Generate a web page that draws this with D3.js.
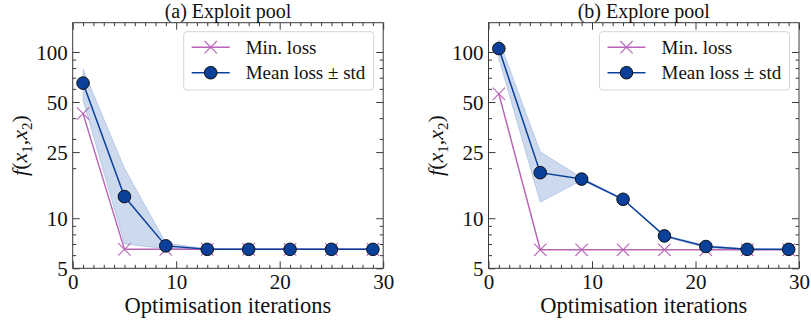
<!DOCTYPE html>
<html>
<head>
<meta charset="utf-8">
<script src="https://cdn.jsdelivr.net/npm/d3@7"></script>
<style>
  html, body { margin: 0; padding: 0; background: #fff; }
  svg text { font-family: "Liberation Serif", "DejaVu Serif", serif !important; }
</style>
</head>
<body>
<svg id="chart" width="811" height="324"></svg>
<script>
// Optimisation iterations at which the pools were evaluated
const iterations = [1, 5, 9, 13, 17, 21, 25, 29];

// (a) Exploit pool
const exploitMin  = [42.6, 6.5, 6.5, 6.5, 6.5, 6.5, 6.5, 6.5];
const exploitMean = [65.0, 13.5, 6.82, 6.5, 6.5, 6.5, 6.5, 6.5];
const exploitStd  = [13.7, 6.5, 0.27, 0.04, 0.0, 0.0, 0.0, 0.0];

// (b) Explore pool
const exploreMin  = [56.0, 6.46, 6.46, 6.46, 6.46, 6.46, 6.46, 6.46];
const exploreMean = [104.8, 18.8, 17.2, 13.0, 7.83, 6.76, 6.5, 6.5];
const exploreStd  = [13.8, 6.3, 0.3, 0.1, 0.08, 0.12, 0.05, 0.0];

const panelTitles = ["(a) Exploit pool", "(b) Explore pool"];
const legendLabels = ["Min. loss", "Mean loss \u00b1 std"];
const xTicks = [0, 10, 20, 30];
const xMinorTicks = d3.range(0, 31, 1).filter(v => v % 10 !== 0);
const yTicks = [5, 10, 25, 50, 100];
const yMinorTicks = [6, 7, 8, 9, 20, 30, 40, 60, 70, 80, 90];
const xDomain = [0, 30];
const yDomain = [5, 150];

const panels = [
  { title: panelTitles[0], min: exploitMin, mean: exploitMean, std: exploitStd, left: 72.7 },
  { title: panelTitles[1], min: exploreMin, mean: exploreMean, std: exploreStd, left: 488.5 }
];

const plotW = 310.5, plotTop = 22.7, plotBottom = 268.3;
const minColor = "#b865b8";
const meanColor = "#0a3f9a";
const bandColor = "#5b86c8";
const frameColor = "#3a3a3a";
const serif = "'Liberation Serif', 'DejaVu Serif', serif";

const svg = d3.select("#chart");

panels.forEach(p => {
  const x = d3.scaleLinear().domain(xDomain).range([p.left, p.left + plotW]);
  const y = d3.scaleLog().domain(yDomain).range([plotBottom, plotTop]);
  const g = svg.append("g").attr("font-family", serif);

  const clipId = "clip" + Math.round(p.left);
  svg.append("clipPath").attr("id", clipId)
    .append("rect").attr("x", p.left).attr("y", plotTop).attr("width", plotW).attr("height", plotBottom - plotTop);

  const plot = g.append("g").attr("clip-path", `url(#${clipId})`);

  // shaded mean ± std band
  const band = d3.area()
    .x((d, i) => x(iterations[i]))
    .y0((d, i) => y(p.mean[i] - p.std[i]))
    .y1((d, i) => y(p.mean[i] + p.std[i]));
  plot.append("path").datum(p.mean).attr("d", band)
    .attr("fill", bandColor).attr("fill-opacity", 0.3)
    .attr("stroke", bandColor).attr("stroke-opacity", 0.3).attr("stroke-width", 1);

  const line = vals => d3.line().x((d, i) => x(iterations[i])).y(d => y(d))(vals);

  // minimum loss line with cross markers
  plot.append("path").attr("d", line(p.min))
    .attr("fill", "none").attr("stroke", minColor).attr("stroke-width", 1.5);
  const cs = 6.2;
  plot.selectAll(".cross").data(p.min).join("path")
    .attr("d", (d, i) => {
      const cx = x(iterations[i]), cy = y(d);
      return `M${cx - cs},${cy - cs}L${cx + cs},${cy + cs}M${cx - cs},${cy + cs}L${cx + cs},${cy - cs}`;
    })
    .attr("stroke", minColor).attr("stroke-width", 1.1).attr("fill", "none");

  // mean loss line with circle markers
  plot.append("path").attr("d", line(p.mean))
    .attr("fill", "none").attr("stroke", meanColor).attr("stroke-width", 1.5);
  g.selectAll(".dot").data(p.mean).join("circle")
    .attr("cx", (d, i) => x(iterations[i])).attr("cy", d => y(d)).attr("r", 6.3)
    .attr("fill", meanColor).attr("stroke", "#111").attr("stroke-width", 1);

  // axes: inward ticks on all four sides
  const styleAxis = sel => {
    sel.attr("font-family", serif);
    sel.select(".domain").remove();
    sel.selectAll(".tick line").attr("stroke", frameColor).attr("stroke-width", 1);
    sel.selectAll(".tick text").attr("fill", "#111").attr("font-size", 21);
  };
  const xb = g.append("g").attr("transform", `translate(0,${plotBottom})`)
    .call(d3.axisBottom(x).tickValues(xTicks).tickSize(-7).tickPadding(5).tickFormat(d3.format("d")));
  styleAxis(xb);
  xb.selectAll(".tick text").attr("dy", "0.75em");
  styleAxis(g.append("g").attr("transform", `translate(0,${plotBottom})`)
    .call(d3.axisBottom(x).tickValues(xMinorTicks).tickSize(-3.5).tickFormat("")));
  styleAxis(g.append("g").attr("transform", `translate(0,${plotTop})`)
    .call(d3.axisTop(x).tickValues(xTicks).tickSize(-7).tickFormat("")));
  styleAxis(g.append("g").attr("transform", `translate(0,${plotTop})`)
    .call(d3.axisTop(x).tickValues(xMinorTicks).tickSize(-3.5).tickFormat("")));

  const yl = g.append("g").attr("transform", `translate(${p.left},0)`)
    .call(d3.axisLeft(y).tickValues(yTicks).tickSize(-7).tickPadding(5).tickFormat(d3.format("d")));
  styleAxis(yl);
  yl.selectAll(".tick text").attr("dy", "0.34em");
  styleAxis(g.append("g").attr("transform", `translate(${p.left},0)`)
    .call(d3.axisLeft(y).tickValues(yMinorTicks).tickSize(-3.5).tickFormat("")));
  styleAxis(g.append("g").attr("transform", `translate(${p.left + plotW},0)`)
    .call(d3.axisRight(y).tickValues(yTicks).tickSize(-7).tickFormat("")));
  styleAxis(g.append("g").attr("transform", `translate(${p.left + plotW},0)`)
    .call(d3.axisRight(y).tickValues(yMinorTicks).tickSize(-3.5).tickFormat("")));

  // frame
  g.append("rect").attr("x", p.left).attr("y", plotTop).attr("width", plotW).attr("height", plotBottom - plotTop)
    .attr("fill", "none").attr("stroke", frameColor).attr("stroke-width", 1);

  // title
  g.append("text").attr("x", p.left + plotW / 2).attr("y", 17.5)
    .attr("text-anchor", "middle").attr("font-size", 20).attr("fill", "#111").text(p.title);

  // x label
  g.append("text").attr("x", p.left + plotW / 2).attr("y", 313)
    .attr("text-anchor", "middle").attr("font-size", 22.5).attr("fill", "#111")
    .text("Optimisation iterations");

  // y label f(x1,x2)
  const ylab = g.append("text")
    .attr("transform", `translate(${p.left - 46},${(plotTop + plotBottom) / 2}) rotate(-90)`)
    .attr("text-anchor", "middle").attr("font-size", 22).attr("fill", "#111");
  ylab.append("tspan").attr("font-style", "italic").text("f");
  ylab.append("tspan").text("(");
  ylab.append("tspan").attr("font-style", "italic").text("x");
  ylab.append("tspan").attr("dy", 5).attr("font-size", 15).text("1");
  ylab.append("tspan").attr("dy", -5).text(",");
  ylab.append("tspan").attr("font-style", "italic").text("x");
  ylab.append("tspan").attr("dy", 5).attr("font-size", 15).text("2");
  ylab.append("tspan").attr("dy", -5).text(")");

  // legend
  const lx = p.left + plotW - 199.5, ly = plotTop + 9;
  const lg = g.append("g");
  lg.append("rect").attr("x", lx).attr("y", ly).attr("width", 190).attr("height", 58.3)
    .attr("rx", 3).attr("fill", "#fff").attr("fill-opacity", 0.85)
    .attr("stroke", "#d6d6d6").attr("stroke-width", 1);
  const rows = [ly + 15.5, ly + 41];
  // row 1: min loss
  lg.append("line").attr("x1", lx + 8).attr("x2", lx + 46).attr("y1", rows[0]).attr("y2", rows[0])
    .attr("stroke", minColor).attr("stroke-width", 1.5);
  lg.append("path")
    .attr("d", `M${lx + 27 - cs},${rows[0] - cs}L${lx + 27 + cs},${rows[0] + cs}M${lx + 27 - cs},${rows[0] + cs}L${lx + 27 + cs},${rows[0] - cs}`)
    .attr("stroke", minColor).attr("stroke-width", 1.1);
  lg.append("text").attr("x", lx + 62).attr("y", rows[0]).attr("dy", "0.34em")
    .attr("font-size", 19).attr("fill", "#111").text(legendLabels[0]);
  // row 2: mean loss
  lg.append("line").attr("x1", lx + 8).attr("x2", lx + 46).attr("y1", rows[1]).attr("y2", rows[1])
    .attr("stroke", meanColor).attr("stroke-width", 1.5);
  lg.append("circle").attr("cx", lx + 27).attr("cy", rows[1]).attr("r", 6.3)
    .attr("fill", meanColor).attr("stroke", "#111").attr("stroke-width", 1);
  lg.append("text").attr("x", lx + 62).attr("y", rows[1]).attr("dy", "0.34em")
    .attr("font-size", 19).attr("fill", "#111").text(legendLabels[1]);
});
</script>
</body>
</html>
